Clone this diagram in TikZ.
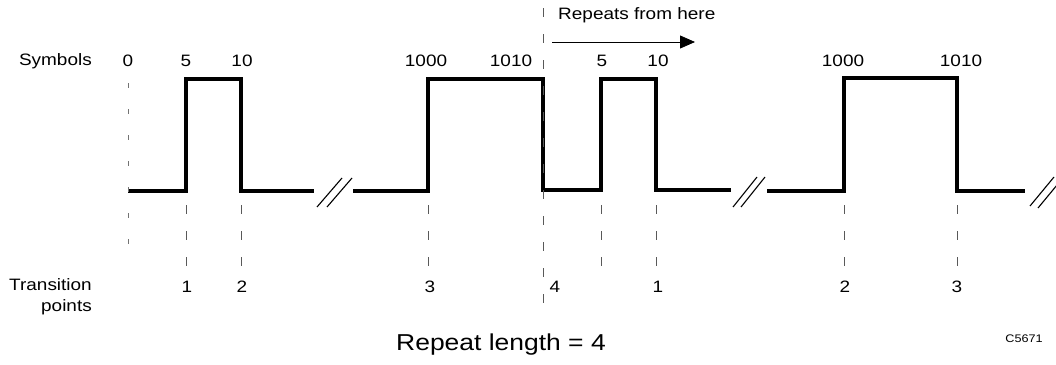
\documentclass[tikz,border=0pt]{standalone}
\usepackage{fontspec}
\setmainfont{Liberation Sans}[FakeStretch=1.15]
\usetikzlibrary{arrows.meta}
\begin{document}
\begin{tikzpicture}[x=1pt,y=-1pt,
  wave/.style={line width=3.2pt, line join=miter},
  guide/.style={black!65, line width=0.9pt, dash pattern=on 9pt off 17pt},
  fineguide/.style={black!55, line width=0.9pt, dash pattern=on 5pt off 21pt},
  brk/.style={line width=1.1pt},
  lbl/.style={font=\fontsize{16.5}{21}\selectfont, inner sep=0pt},
  big/.style={font=\fontsize{23}{27}\selectfont, inner sep=0pt},
  tiny/.style={font=\fontsize{11}{13}\selectfont, inner sep=0pt}]
\useasboundingbox (0,0) rectangle (1056,364);

% transition coordinates
\coordinate (s0) at (128,191);
\coordinate (a1) at (186,191);
\coordinate (a2) at (241,191);
\coordinate (b3) at (428,191);
\coordinate (b4) at (543,190);
\coordinate (b5) at (601,190);
\coordinate (b6) at (656,190);
\coordinate (c2) at (844,191);
\coordinate (c3) at (957,191);

% waveform
\draw[wave] (s0) -- (a1) -- (186,79) -- (241,79) -- (a2) -- (314,191);
\draw[wave] (353,191) -- (b3) -- (428,79) -- (543,79) -- (b4) -- (b5)
  -- (601,79) -- (656,79) -- (b6) -- (731,190);
\draw[wave] (767,191) -- (c2) -- (844,78) -- (957,78) -- (c3) -- (1025,191);

% break marks
\draw[brk] (317,207) -- (342,178);
\draw[brk] (327,207) -- (352,178);
\draw[brk] (733,207) -- (757,177);
\draw[brk] (741,207) -- (765,177);
\draw[brk] (1030,206) -- (1054,177);
\draw[brk] (1038,208) -- (1062,179);

% guide lines
\draw[fineguide] (128,83) -- (128,250);
\foreach \p/\x in {a1/186,a2/241,b3/428,b5/601,b6/656,c2/844,c3/957}
  \draw[guide] (\x,205) -- (\x,270);
\draw[guide] (543,8) -- (543,306);

% symbol labels
\node[lbl, anchor=east] (symlab) at (92,61) {Symbols};
\node[lbl] (n0) at (128,61) {0};
\node[lbl] (n5) at (186,61) {5};
\node[lbl] (n10) at (242,61) {10};
\node[lbl] (n1000) at (426,61) {1000};
\node[lbl] (n1010) at (511,61) {1010};
\node[lbl] (m5) at (602,61) {5};
\node[lbl] (m10) at (658,61) {10};
\node[lbl] (m1000) at (843,61) {1000};
\node[lbl] (m1010) at (961,61) {1010};

% transition labels
\node[lbl, anchor=east, align=right] (trlab) at (92,297) {Transition\\points};
\node[lbl] (p1) at (187,287) {1};
\node[lbl] (p2) at (242,287) {2};
\node[lbl] (p3) at (430,287) {3};
\node[lbl] (p4) at (555,287) {4};
\node[lbl] (q1) at (658,287) {1};
\node[lbl] (q2) at (845,287) {2};
\node[lbl] (q3) at (957,287) {3};

% repeats arrow
\node[lbl, anchor=west] (rep) at (558,15) {Repeats from here};
\coordinate (ra) at (552,42);
\coordinate (rb) at (695,42);
\draw[line width=0.8pt, -{Triangle[length=15pt,width=13pt]}] (ra) -- (rb);

\node[big] (len) at (501,345) {Repeat length = 4};
\node[tiny] (code) at (1024,339) {C5671};
\end{tikzpicture}
\end{document}
